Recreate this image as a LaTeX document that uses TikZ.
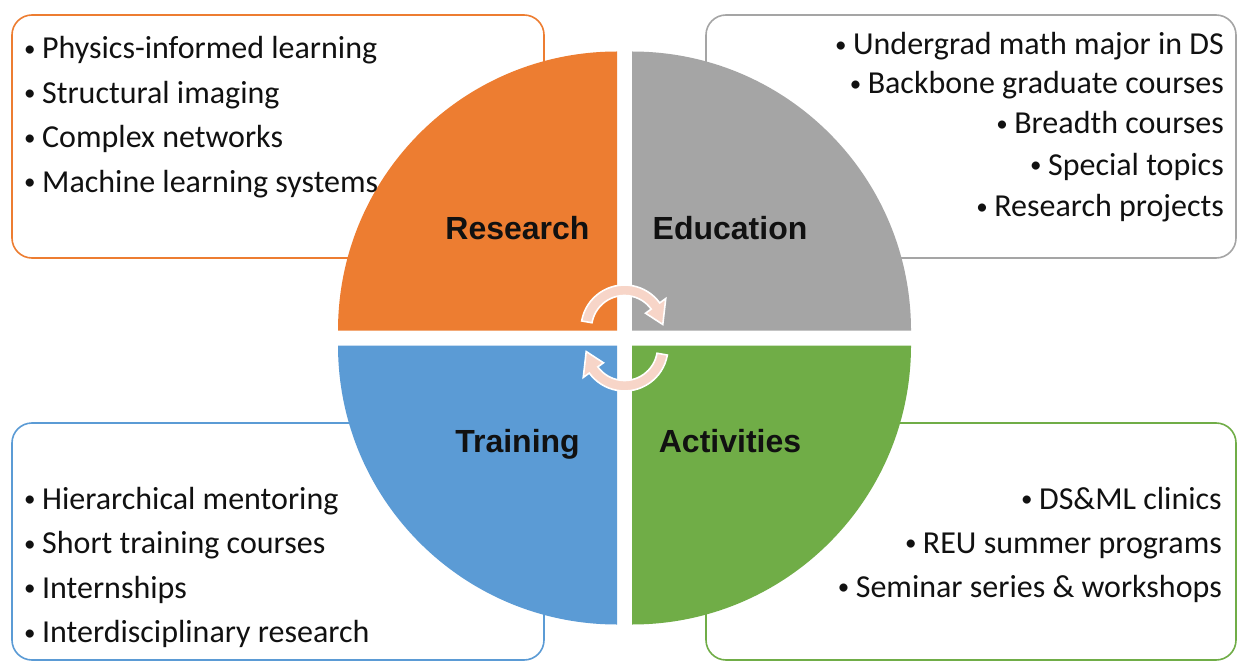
\documentclass[tikz,border=0pt]{standalone}
\usepackage{fontspec}
\setmainfont{Carlito}
\newfontfamily\labelfont{Liberation Sans}
\definecolor{cOrange}{HTML}{ED7D31}
\definecolor{cGray}{HTML}{A5A5A5}
\definecolor{cBlue}{HTML}{5B9BD5}
\definecolor{cGreen}{HTML}{70AD47}
\definecolor{cArrow}{HTML}{F7D5C8}
\definecolor{cText}{HTML}{111111}
\newcommand\mybul{\raisebox{2.5pt}{\fontsize{23}{23}\selectfont •}\hspace{6.5pt}}
\begin{document}
\begin{tikzpicture}[x=1pt,y=1pt,
  infobox/.style={line width=1.6pt, rounded corners=20pt, fill=white},
  bullet/.style={inner sep=0pt, font=\fontsize{32}{38}\selectfont, text=cText},
  quadlabel/.style={inner sep=0pt, font=\labelfont\bfseries\fontsize{32}{38}\selectfont, text=cText, anchor=base},
  cyclearrow/.style={fill=cArrow, draw=white, line width=1.6pt, line join=miter}
]
\useasboundingbox (0,0) rectangle (1238,662);
\fill[white] (0,0) rectangle (1238,662);

% info boxes (behind the pie)
\draw[infobox, draw=cOrange] (12,404) rectangle (544,647);
\draw[infobox, draw=cGray]   (706,404) rectangle (1236,647);
\draw[infobox, draw=cBlue]   (12,2) rectangle (544,239);
\draw[infobox, draw=cGreen]  (706,2) rectangle (1236,239);

% pie quadrants
\fill[cOrange] (617,331.5) -- ++(0,279) arc[start angle=90, end angle=180, radius=279] -- cycle;
\fill[cGray]   (632,331.5) -- ++(279,0) arc[start angle=0, end angle=90, radius=279] -- cycle;
\fill[cBlue]   (617,316.5) -- ++(-279,0) arc[start angle=180, end angle=270, radius=279] -- cycle;
\fill[cGreen]  (632,316.5) -- ++(0,-279) arc[start angle=270, end angle=360, radius=279] -- cycle;

% quadrant labels
\node[quadlabel] (research) at (517.5,422) {Research};
\node[quadlabel] (education) at (730,422) {Education};
\node[quadlabel] (training) at (517.5,209.5) {Training};
\node[quadlabel] (activities) at (730,209.5) {Activities};

% cycle arrows
\coordinate (A) at (624.5,333.5);
\coordinate (B) at (624.5,314.5);
\draw[cyclearrow] ([shift={(A)}]170:43.5) arc[start angle=170, end angle=36, radius=43.5]
  -- ([shift={(A)}]36:51) -- ([shift={(A)}]6:38.5) -- ([shift={(A)}]36:26)
  -- ([shift={(A)}]36:33) arc[start angle=36, end angle=170, radius=33] -- cycle;
\draw[cyclearrow] ([shift={(B)}]350:43.5) arc[start angle=350, end angle=216, radius=43.5]
  -- ([shift={(B)}]216:51) -- ([shift={(B)}]186:38.5) -- ([shift={(B)}]216:26)
  -- ([shift={(B)}]216:33) arc[start angle=216, end angle=350, radius=33] -- cycle;

% research bullets
\node[bullet, anchor=base west] (r1) at (24,603) {\mybul Physics-informed learning};
\node[bullet, anchor=base west] (r2) at (24,558.5) {\mybul Structural imaging};
\node[bullet, anchor=base west] (r3) at (24,514) {\mybul Complex networks};
\node[bullet, anchor=base west] (r4) at (24,469.5) {\mybul Machine learning systems};

% education bullets
\node[bullet, anchor=base east] (e1) at (1224,607) {\mybul Undergrad math major in DS};
\node[bullet, anchor=base east] (e2) at (1224,568) {\mybul Backbone graduate courses};
\node[bullet, anchor=base east] (e3) at (1224,528) {\mybul Breadth courses};
\node[bullet, anchor=base east] (e4) at (1224,486.5) {\mybul Special topics};
\node[bullet, anchor=base east] (e5) at (1224,445) {\mybul Research projects};

% training bullets
\node[bullet, anchor=base west] (t1) at (24,153) {\mybul Hierarchical mentoring};
\node[bullet, anchor=base west] (t2) at (24,108.5) {\mybul Short training courses};
\node[bullet, anchor=base west] (t3) at (24,64) {\mybul Internships};
\node[bullet, anchor=base west] (t4) at (24,19.5) {\mybul Interdisciplinary research};

% activities bullets
\node[bullet, anchor=base east] (a1) at (1222,153) {\mybul DS\&ML clinics};
\node[bullet, anchor=base east] (a2) at (1222,109) {\mybul REU summer programs};
\node[bullet, anchor=base east] (a3) at (1222,65) {\mybul Seminar series \& workshops};
\end{tikzpicture}
\end{document}
